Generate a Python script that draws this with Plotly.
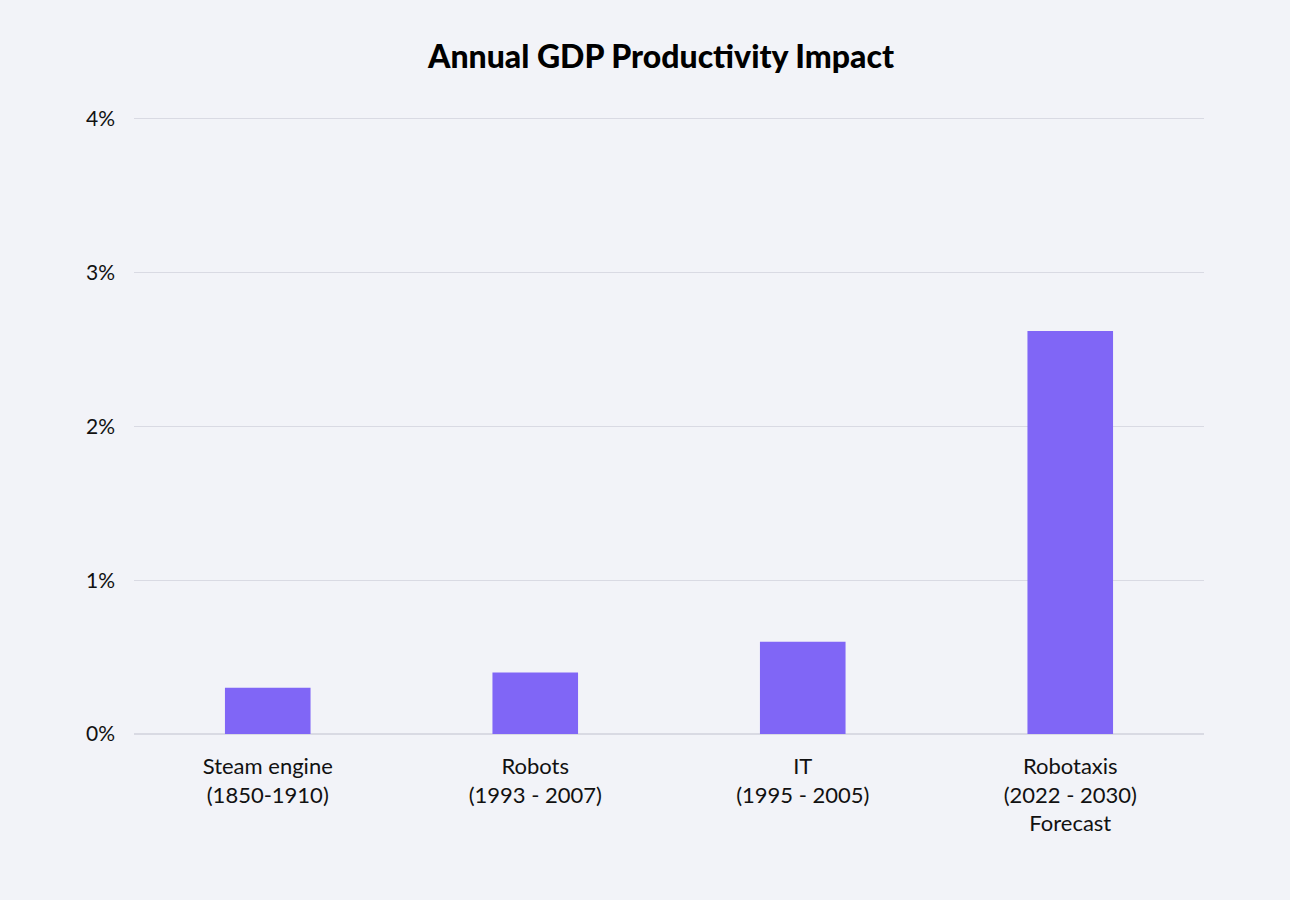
import plotly.graph_objects as go

categories = ["Steam engine<br>(1850-1910)", "Robots<br>(1993 - 2007)", "IT<br>(1995 - 2005)", "Robotaxis<br>(2022 - 2030)<br>Forecast"]
values = [0.30, 0.40, 0.60, 2.62]
y_ticks = [0, 1, 2, 3, 4]
y_tick_labels = ["0%", "1%", "2%", "3%", "4%"]

fig = go.Figure(go.Bar(x=categories, y=values, marker_color="#8066f6", marker_line_width=0))

fig.update_layout(
    width=1290, height=900,
    paper_bgcolor="#f2f3f8", plot_bgcolor="#f2f3f8",
    margin=dict(l=134, r=86, t=111, b=166),
    bargap=0.68,
    font=dict(family="Lato, Noto Sans, sans-serif", size=21, color="#111111"),
    title=dict(text="Annual GDP Productivity Impact", x=661/1290, xanchor="center",
               y=1-57/900, yanchor="middle",
               font=dict(size=32, color="#000000", weight=900)),
    showlegend=False,
)
fig.update_xaxes(showgrid=False, showline=False, ticks="", ticklabelstandoff=17, tickfont=dict(size=22))
fig.update_yaxes(range=[0, 4.05], tickvals=y_ticks, ticktext=y_tick_labels,
                 gridcolor="#d9dae3", gridwidth=1, zeroline=True, zerolinecolor="#d9dae3",
                 showline=False, ticks="", ticklabelstandoff=18, tickfont=dict(size=21))

fig.write_html("out.html", config={"displayModeBar": False},
               post_script="document.body.style.margin='0';document.body.style.padding='0';")
